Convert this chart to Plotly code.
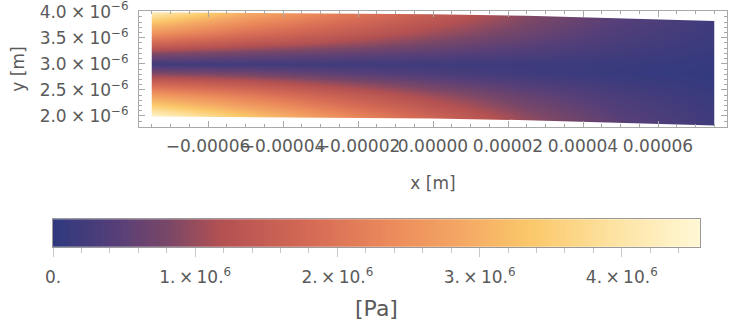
import plotly.graph_objects as go

# Sampling stations along the channel (m)
x_st = [-7.5e-5, -5.0e-5, -2.5e-5, 0.0, 2.5e-5, 5.0e-5, 7.5e-5]
# Sampling rows across the channel (m)
y_rows = [1.8e-6, 2.0e-6, 2.2e-6, 2.4e-6, 2.6e-6, 2.8e-6, 3.0e-6,
          3.2e-6, 3.4e-6, 3.6e-6, 3.8e-6, 4.0e-6]

# Channel walls at each station (m)
top_edge = [3.99e-6, 3.98e-6, 3.97e-6, 3.95e-6, 3.92e-6, 3.87e-6, 3.82e-6]
bottom_edge = [1.99e-6, 1.98e-6, 1.97e-6, 1.95e-6, 1.92e-6, 1.87e-6, 1.82e-6]

# Pressure (MPa) per row (bottom to top), one value per station
p_mpa = [
    [4.55, 3.50, 2.55, 1.75, 1.02, 0.51, 0.18],   # 1.8
    [4.40, 3.35, 2.43, 1.62, 0.93, 0.44, 0.17],   # 2.0
    [3.52, 2.73, 1.98, 1.32, 0.76, 0.37, 0.14],   # 2.2
    [2.67, 2.12, 1.54, 1.02, 0.59, 0.29, 0.11],   # 2.4
    [1.82, 1.48, 1.07, 0.70, 0.40, 0.20, 0.08],   # 2.6
    [0.92, 0.78, 0.53, 0.34, 0.19, 0.10, 0.05],   # 2.8
    [0.20, 0.20, 0.19, 0.18, 0.16, 0.12, 0.07],   # 3.0
    [0.88, 0.73, 0.60, 0.48, 0.34, 0.21, 0.10],   # 3.2
    [1.72, 1.35, 1.07, 0.77, 0.51, 0.28, 0.13],   # 3.4
    [2.52, 1.91, 1.48, 1.04, 0.67, 0.35, 0.155],  # 3.6
    [3.32, 2.44, 1.85, 1.29, 0.81, 0.42, 0.18],   # 3.8
    [4.20, 3.00, 2.20, 1.53, 0.92, 0.45, 0.18],   # 4.0
]

p_max = 4.55e6

x_tick_vals = [-6e-5, -4e-5, -2e-5, 0.0, 2e-5, 4e-5, 6e-5]
x_tick_text = ["\u22120.00006", "\u22120.00004", "\u22120.00002", "0.00000",
               "0.00002", "0.00004", "0.00006"]
y_tick_vals = [2.0e-6, 2.5e-6, 3.0e-6, 3.5e-6, 4.0e-6]
y_tick_text = [f"{m}\u2005\u00d7\u200510<sup>\u22126</sup>" for m in ["2.0", "2.5", "3.0", "3.5", "4.0"]]
cb_tick_vals = [0.0, 1e6, 2e6, 3e6, 4e6]
cb_tick_text = ["0."] + [f"{m}.\u2009\u00d7\u200910.<sup>6</sup>" for m in ["1", "2", "3", "4"]]

colorscale = [
    [0.00, "#2f397f"],
    [0.10, "#573f78"],
    [0.18, "#7b4767"],
    [0.26, "#b35152"],
    [0.40, "#d66b55"],
    [0.52, "#eb8a5b"],
    [0.62, "#f3a463"],
    [0.74, "#fbc86a"],
    [0.87, "#fde3a3"],
    [1.00, "#fff8d5"],
]

FONT = "DejaVu Sans, Liberation Sans, sans-serif"
GREY = "#5a5a5a"
FRAME = "#a8a8a8"
W, H = 742, 332

z = [[v * 1e6 for v in row] for row in p_mpa]

fig = go.Figure()
fig.add_trace(go.Heatmap(
    x=x_st, y=y_rows, z=z, zsmooth="best",
    colorscale=colorscale, zmin=0, zmax=p_max,
    showscale=False, hoverinfo="skip", xaxis="x", yaxis="y",
))

# White cover outside the channel walls
X0, X1, Y0, Y1 = -1e-4, 1e-4, 1.5e-6, 4.5e-6
masks = [
    ([X0, X0] + x_st + [X1, X1], [Y1, top_edge[0]] + top_edge + [top_edge[-1], Y1]),
    ([X0, X0] + x_st + [X1, X1], [Y0, bottom_edge[0]] + bottom_edge + [bottom_edge[-1], Y0]),
    ([X0, x_st[0], x_st[0], X0], [Y0, Y0, Y1, Y1]),
    ([x_st[-1], X1, X1, x_st[-1]], [Y0, Y0, Y1, Y1]),
]
for mx, my in masks:
    fig.add_trace(go.Scatter(x=mx, y=my, mode="lines", fill="toself",
                             fillcolor="white", line=dict(width=0, color="white"),
                             hoverinfo="skip", showlegend=False,
                             xaxis="x", yaxis="y"))

# Colour key: a strip sampled over the full pressure range
n_key = 300
key_vals = [p_max * i / (n_key - 1) for i in range(n_key)]
fig.add_trace(go.Heatmap(
    x=key_vals, y=[0, 1], z=[key_vals, key_vals],
    colorscale=colorscale, zmin=0, zmax=p_max,
    showscale=False, hoverinfo="skip", xaxis="x2", yaxis="y2",
))

axis_common = dict(
    showgrid=False, zeroline=False, showline=True, linecolor=FRAME,
    linewidth=1, mirror="allticks", ticks="inside", ticklen=6, automargin=False,
    ticklabeloverflow="allow",
    tickcolor=FRAME, tickfont=dict(family=FONT, size=17, color=GREY),
)

fig.update_layout(
    width=W, height=H,
    margin=dict(l=0, r=0, t=0, b=0),
    paper_bgcolor="white", plot_bgcolor="white",
    showlegend=False,
    xaxis=dict(domain=[139 / W, 727 / W], anchor="y",
               range=[-7.84e-5, 7.84e-5], tickvals=x_tick_vals, ticktext=x_tick_text,
               tickangle=0, ticklabelstandoff=4,
               minor=dict(dtick=5e-6, tick0=0, ticks="inside", ticklen=3, tickcolor=FRAME),
               title=dict(text="x [m]", font=dict(family=FONT, size=17, color=GREY), standoff=21),
               **axis_common),
    yaxis=dict(domain=[1 - 127 / H, 1 - 11 / H], anchor="x",
               range=[1.789e-6, 4.013e-6], tickvals=y_tick_vals, ticktext=y_tick_text,
               ticklabelstandoff=6,
               minor=dict(dtick=1e-7, tick0=0, ticks="inside", ticklen=3, tickcolor=FRAME),
               title=dict(text="y [m]", font=dict(family=FONT, size=17, color=GREY), standoff=10),
               **axis_common),
    xaxis2=dict(domain=[53 / W, 700 / W], anchor="y2", range=[0, p_max],
                showgrid=False, zeroline=False, showline=True, mirror=True, automargin=False,
                linecolor="#9a9a9a", linewidth=1,
                ticks="outside", ticklen=9, tickcolor="#c8c8c8",
                tickvals=cb_tick_vals, ticktext=cb_tick_text, tickangle=0,
                ticklabelstandoff=6, ticklabeloverflow="allow",
                minor=dict(dtick=2e5, tick0=0, ticks="outside", ticklen=5, tickcolor="#c8c8c8"),
                tickfont=dict(family=FONT, size=17, color=GREY),
                title=dict(text="[Pa]", font=dict(family=FONT, size=22, color=GREY), standoff=14)),
    yaxis2=dict(domain=[1 - 246.7 / H, 1 - 219.3 / H], anchor="x2", range=[0, 1],
                showgrid=False, zeroline=False, showline=True, mirror=True, automargin=False,
                linecolor="#9a9a9a", linewidth=1, showticklabels=False, ticks=""),
)

fig.write_html("out.html")
